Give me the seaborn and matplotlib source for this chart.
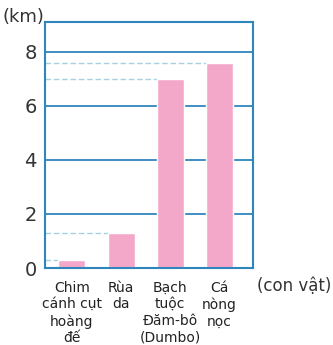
import matplotlib
matplotlib.use("Agg")
import matplotlib.pyplot as plt
import seaborn as sns
import pandas as pd

categories = ["Chim\ncánh cụt\nhoàng\nđế", "Rùa\nda", "Bạch\ntuộc\nĐăm-bô\n(Dumbo)", "Cá\nnòng\nnọc"]
values = [0.3, 1.3, 7.0, 7.6]
yticks = [0, 2, 4, 6, 8]

sns.set_theme(style="white")
plt.rcParams['font.family'] = ['DejaVu Sans']

df = pd.DataFrame({"cat": categories, "val": values})

fig = plt.figure(figsize=(3.33, 3.45), dpi=100)
fig.patch.set_facecolor("white")
ax = fig.add_axes([45/333, 1 - 268/345, 208/333, 246/345])
blue = "#2f86bd"
pink = "#f4a8c9"

for t in yticks[1:]:
    ax.axhline(t, color=blue, lw=1.3, zorder=0)

sns.barplot(data=df, x="cat", y="val", color=pink, width=0.55, ax=ax, zorder=2, saturation=1)

for i, v in enumerate(values):
    ax.plot([-0.55, i - 0.275], [v, v], ls=(0, (4, 2)), color="#a8d0e2", lw=1, zorder=1)

ax.set_xlim(-0.55, 3.69)
ax.set_ylim(0, 9.1)
ax.set_yticks(yticks)
ax.set_yticklabels([str(t) for t in yticks], fontsize=14, color="#333333")
ax.set_xticks(range(len(categories)))
ax.set_xticklabels(categories, fontsize=10, color="#222222", linespacing=1.25, va="top")
ax.tick_params(axis="x", length=0, pad=9)
ax.tick_params(axis="y", length=0, pad=6)
ax.set_xlabel("")
ax.set_ylabel("")
for s in ax.spines.values():
    s.set_color(blue)
    s.set_linewidth(1.5)

fig.text(3/333, 1 - 17/345, "(km)", fontsize=13, color="#333333", va="center", ha="left")
fig.text(331/333, 1 - 286/345, "(con vật)", fontsize=12, color="#333333", va="center", ha="right")

fig.savefig("out.png", dpi=100, facecolor="white")
